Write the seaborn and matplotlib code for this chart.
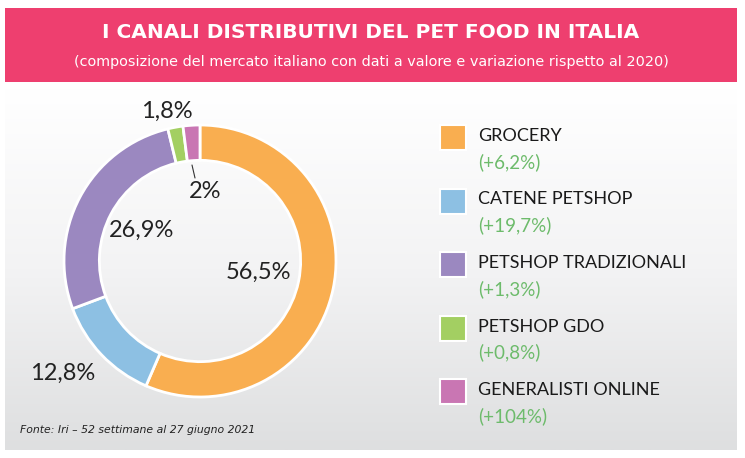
import numpy as np
import pandas as pd
import matplotlib
matplotlib.use("Agg")
import matplotlib.pyplot as plt
import seaborn as sns
from matplotlib import font_manager
from matplotlib.colors import LinearSegmentedColormap

categories = ["GROCERY", "CATENE PETSHOP", "PETSHOP TRADIZIONALI", "PETSHOP GDO", "GENERALISTI ONLINE"]
shares = [56.5, 12.8, 26.9, 1.8, 2.0]
share_labels = ["56,5%", "12,8%", "26,9%", "1,8%", "2%"]
variations = ["(+6,2%)", "(+19,7%)", "(+1,3%)", "(+0,8%)", "(+104%)"]
colors = ["#F9AE50", "#8DC0E3", "#9B88C0", "#A3CF62", "#C976B3"]

title = "I CANALI DISTRIBUTIVI DEL PET FOOD IN ITALIA"
subtitle = "(composizione del mercato italiano con dati a valore e variazione rispetto al 2020)"
source = "Fonte: Iri \u2013 52 settimane al 27 giugno 2021"

df = pd.DataFrame({"canale": categories, "quota": shares, "label": share_labels, "var": variations})

sns.set_theme(style="white")
names = {f.name for f in font_manager.fontManager.ttflist}
light = "Lato" if "Lato" in names else "DejaVu Sans"
plt.rcParams["font.family"] = [light, "DejaVu Sans"]

W, H = 745, 458
fig = plt.figure(figsize=(W / 100, H / 100), dpi=100)
fig.patch.set_facecolor("white")

# background gradient panel
bg = fig.add_axes([0, 0, 1, 1])
bg.set_xlim(0, W)
bg.set_ylim(H, 0)
bg.axis("off")
grad = np.linspace(0, 1, 256).reshape(-1, 1)
cmap = LinearSegmentedColormap.from_list("g", ["#FFFFFF", "#F3F3F4", "#DEDFE0"])
bg.imshow(grad, extent=[5, 737, 450, 88], aspect="auto", cmap=cmap, zorder=0)
bg.add_patch(plt.Rectangle((5, 8), 732, 74, color="#EE3F6F", zorder=1, lw=0))
bg.text(371, 32, title, color="white", fontsize=14.5, fontweight="bold", family=["DejaVu Sans"],
        ha="center", va="center", zorder=2)
bg.text(371, 62, subtitle, color="white", fontsize=10.4, family=["DejaVu Sans"],
        ha="center", va="center", zorder=2)
bg.text(20, 430, source, color="#222222", fontsize=7.8, style="italic", family=["DejaVu Sans"],
        ha="left", va="center")

# donut
cx, cy, R = 200, 261, 136
ax = fig.add_axes([(cx - R) / W, 1 - (cy + R) / H, 2 * R / W, 2 * R / H])
wedges, _ = ax.pie(df["quota"], colors=colors, startangle=90, counterclock=False,
                   wedgeprops=dict(width=0.26, edgecolor="white", linewidth=2))
ax.set_aspect("equal")
ax.set_xlim(-1, 1)
ax.set_ylim(-1, 1)

lab_pos = [(258, 272), (63, 373), (142, 230), (167, 111), (205, 192)]
for (x, y), lab in zip(lab_pos, df["label"]):
    bg.text(x, y, lab, fontsize=17, color="#222222", ha="center", va="center", zorder=5)
bg.plot([192, 195], [165, 178], color="#333333", lw=0.8, zorder=5)

# legend
for i, (cat, var, col) in enumerate(zip(df["canale"], df["var"], colors)):
    y0 = 125 + i * 63.5
    bg.add_patch(plt.Rectangle((440, y0), 26, 25, facecolor=col, edgecolor="white", lw=1.5, zorder=3))
    bg.text(478, y0 + 11, cat, fontsize=13, color="#1A1A1A", ha="left", va="center")
    bg.text(478, y0 + 37, var, fontsize=13.5, color="#6DBB6B", ha="left", va="center")

fig.savefig("out.png", dpi=100)
